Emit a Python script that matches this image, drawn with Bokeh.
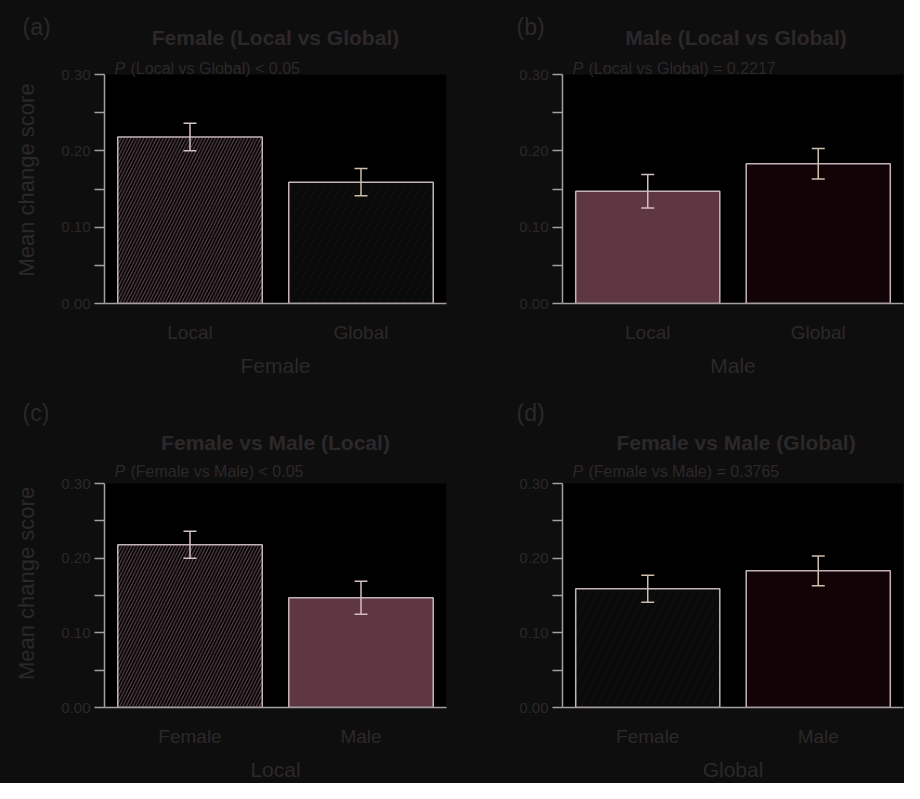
from bokeh.plotting import figure
from bokeh.models import (FactorRange, Range1d, FixedTicker, PrintfTickFormatter,
                          Label, Whisker, TeeHead, ColumnDataSource, BoxAnnotation)
from bokeh.core.properties import value
from bokeh.layouts import column, row
from bokeh.embed import file_html
from bokeh.resources import INLINE

# ---------------- data ----------------
conditions = ["Local", "Global"]
sexes = ["Female", "Male"]
female_means = [0.218, 0.159]   # Local, Global
female_se = [0.018, 0.018]
male_means = [0.147, 0.183]     # Local, Global
male_se = [0.022, 0.020]

panel_letters = ["(a)", "(b)", "(c)", "(d)"]
panel_titles = ["Female (Local vs Global)", "Male (Local vs Global)",
                "Female vs Male (Local)", "Female vs Male (Global)"]
panel_pvalues = ["(Local vs Global) < 0.05", "(Local vs Global) = 0.2217",
                 "(Female vs Male) < 0.05", "(Female vs Male) = 0.3765"]
panel_xlabels = ["Female", "Male", "Local", "Global"]
y_label = "Mean change score"
y_top = 0.30
y_ticks = [0.0, 0.10, 0.20, 0.30]
y_minor_ticks = [0.05, 0.15, 0.25]

# style per (sex, condition)
STYLE = {
    ("Female", "Local"): dict(fill="#000000", hatch="/", hcolor="#6a5059", hscale=6.5, ecolor="#d4c0c6"),
    ("Female", "Global"): dict(fill="#0a0a0a", hatch="/", hcolor="#111111", hscale=16, ecolor="#cdbda9"),
    ("Male", "Local"): dict(fill="#5e3743", hatch=" ", hcolor="#5e3743", hscale=12, ecolor="#d6bcc4"),
    ("Male", "Global"): dict(fill="#120307", hatch=" ", hcolor="#120307", hscale=12, ecolor="#cdbfad"),
}

BG = "#0e0e0e"
TXT = "#2c2829"
AXIS = "#a49ea0"
EDGE = "#c4b4b8"
FONT = "Liberation Sans"

# ---------------- layout constants (px) ----------------
TOTAL_W = 904
COL_W = 452
LEFT_BORDER = [104, 110]
FRAME_W = [342, 341]
RIGHT_BORDER = [6, 1]
HEADER_H = [56, 79]        # strip above each row holding letter + title
STRIP = [18, 24]           # strip inside the frame above 0.30 holding the P-value
AXIS_H = [229, 224]        # pixel height of 0 .. 0.30
BOTTOM_BORDER = [77, 76]
SUB_OFF = [6, 12]
LETTER_Y = [26, 32]
TITLE_Y = [37, 62]
LETTER_X = [22, 516]


def make_header(r):
    h = figure(x_range=Range1d(0, TOTAL_W), y_range=Range1d(HEADER_H[r], 0),
               frame_width=TOTAL_W, frame_height=HEADER_H[r],
               min_border_left=0, min_border_right=0, min_border_top=0, min_border_bottom=0,
               x_axis_type=None, y_axis_type=None,
               output_backend="svg", toolbar_location=None, tools="")
    h.background_fill_color = BG
    h.border_fill_color = BG
    h.outline_line_color = None
    h.grid.visible = False
    centers = [LEFT_BORDER[0] + FRAME_W[0] / 2.0,
               COL_W + LEFT_BORDER[1] + FRAME_W[1] / 2.0 + 3]
    idx = [2 * r, 2 * r + 1]
    h.text(x=LETTER_X, y=[LETTER_Y[r]] * 2, text=[panel_letters[k] for k in idx],
           text_font=value(FONT), text_font_size=value("23px"), text_color=TXT,
           text_align="left", text_baseline="middle")
    h.text(x=centers, y=[TITLE_Y[r]] * 2, text=[panel_titles[k] for k in idx],
           text_font=value(FONT), text_font_size=value("21px"), text_font_style="bold",
           text_color=TXT, text_align="center", text_baseline="middle")
    return h


def make_panel(i, cats, keys, vals, errs):
    r, c = divmod(i, 2)
    frame_h = AXIS_H[r] + STRIP[r]
    y_end = y_top * frame_h / AXIS_H[r]
    p = figure(x_range=FactorRange(factors=cats, range_padding=0),
               y_range=Range1d(0, y_end),
               frame_width=FRAME_W[c], frame_height=frame_h,
               min_border_left=LEFT_BORDER[c], min_border_right=RIGHT_BORDER[c],
               min_border_top=0, min_border_bottom=BOTTOM_BORDER[r],
               output_backend="svg", toolbar_location=None, tools="")
    p.background_fill_color = BG
    p.border_fill_color = BG
    p.outline_line_color = None
    p.grid.visible = False
    p.add_layout(BoxAnnotation(bottom=0, top=y_top, fill_color="#000000", fill_alpha=1.0,
                               line_color=None, level="underlay"))

    src = ColumnDataSource(dict(
        cat=cats, val=vals,
        fill=[STYLE[k]["fill"] for k in keys],
        hatch=[STYLE[k]["hatch"] for k in keys],
        hcolor=[STYLE[k]["hcolor"] for k in keys],
        hscale=[STYLE[k]["hscale"] for k in keys],
    ))
    p.vbar(x="cat", top="val", bottom=0, width=0.845, source=src,
           fill_color="fill", line_color=EDGE, line_width=1.5,
           hatch_pattern="hatch", hatch_color="hcolor", hatch_scale="hscale",
           hatch_weight=1.0)

    for cat, k, v, e in zip(cats, keys, vals, errs):
        ws = ColumnDataSource(dict(base=[cat], upper=[v + e], lower=[v - e]))
        col = STYLE[k]["ecolor"]
        w = Whisker(source=ws, base="base", upper="upper", lower="lower",
                    level="overlay", line_color=col, line_width=1.5,
                    upper_head=TeeHead(size=13, line_color=col, line_width=1.5),
                    lower_head=TeeHead(size=13, line_color=col, line_width=1.5))
        p.add_layout(w)

    # axes
    ya = p.yaxis[0]
    ya.bounds = (0, y_top)
    ya.ticker = FixedTicker(ticks=y_ticks, minor_ticks=y_minor_ticks)
    ya.formatter = PrintfTickFormatter(format="%.2f")
    ya.major_tick_out = 10
    ya.major_tick_in = 0
    ya.minor_tick_out = 10
    ya.minor_tick_in = 0
    ya.axis_line_color = AXIS
    ya.major_tick_line_color = AXIS
    ya.minor_tick_line_color = AXIS
    ya.axis_line_width = 1.5
    ya.major_tick_line_width = 1.5
    ya.minor_tick_line_width = 1.5
    ya.major_label_text_font = FONT
    ya.major_label_text_font_size = "15px"
    ya.major_label_text_color = TXT
    ya.major_label_standoff = 4
    if c == 0:
        ya.axis_label = y_label
        ya.axis_label_text_font = FONT
        ya.axis_label_text_font_size = "22px"
        ya.axis_label_text_font_style = "normal"
        ya.axis_label_text_color = TXT
        ya.axis_label_standoff = 19

    xa = p.xaxis[0]
    xa.major_tick_line_color = None
    xa.minor_tick_line_color = None
    xa.axis_line_color = AXIS
    xa.axis_line_width = 1.5
    xa.major_label_text_font = FONT
    xa.major_label_text_font_size = "19px"
    xa.major_label_text_color = TXT
    xa.major_label_standoff = 12
    xa.axis_label = panel_xlabels[i]
    xa.axis_label_text_font = FONT
    xa.axis_label_text_font_size = "21px"
    xa.axis_label_text_font_style = "normal"
    xa.axis_label_text_color = TXT
    xa.axis_label_standoff = 8

    # P-value line inside the frame, just above 0.30
    common = dict(x_units="screen", y=y_top, y_units="data", y_offset=SUB_OFF[r],
                  text_font=FONT, text_font_size="16px", text_color=TXT,
                  text_baseline="middle", text_align="left")
    p.add_layout(Label(x=10, text="P", text_font_style="italic", **common))
    p.add_layout(Label(x=26, text=panel_pvalues[i], **common))
    return p


pa = make_panel(0, conditions, [("Female", cc) for cc in conditions], female_means, female_se)
pb = make_panel(1, conditions, [("Male", cc) for cc in conditions], male_means, male_se)
pc = make_panel(2, sexes, [(s, "Local") for s in sexes],
                [female_means[0], male_means[0]], [female_se[0], male_se[0]])
pd = make_panel(3, sexes, [(s, "Global") for s in sexes],
                [female_means[1], male_means[1]], [female_se[1], male_se[1]])

layout = column(make_header(0),
                row(pa, pb, spacing=0, styles={"background-color": BG}),
                make_header(1),
                row(pc, pd, spacing=0, styles={"background-color": BG}),
                spacing=0, styles={"background-color": BG})

open("out.html", "w").write(file_html(layout, INLINE))
